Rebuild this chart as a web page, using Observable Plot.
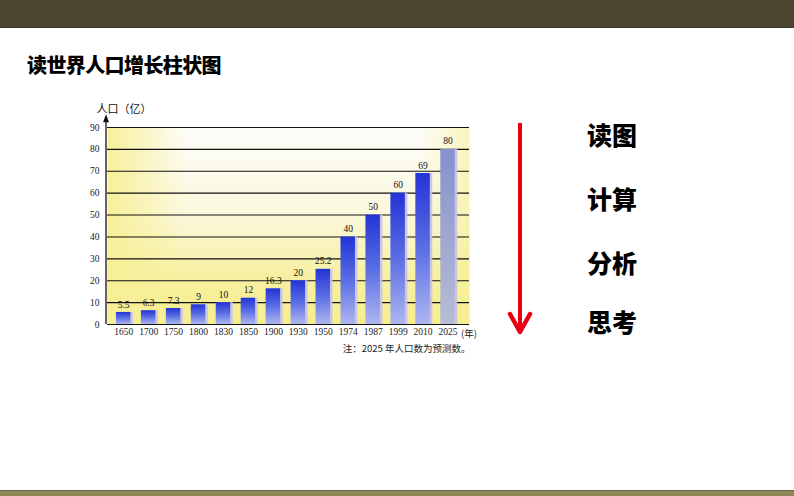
<!DOCTYPE html>
<html>
<head>
<meta charset="utf-8">
<script src="https://cdn.jsdelivr.net/npm/d3@7"></script>
<script src="https://cdn.jsdelivr.net/npm/@observablehq/plot@0.6"></script>
<style>
  html, body { margin: 0; padding: 0; background: #fff; }
  #page { position: relative; width: 794px; height: 496px; overflow: hidden; background: #fff; }
  #topband { position: absolute; left: 0; top: 0; width: 794px; height: 27px; background: #4c4631; border-bottom: 1px solid #3a3626; }
  #bottomband { position: absolute; left: 0; top: 490px; width: 794px; height: 6px; background: #8d8753; border-top: 1px solid #66634c; }
  #title { position: absolute; left: 27px; top: 55px; font: 900 20px/20px "Noto Sans CJK SC", sans-serif; color: #000; letter-spacing: -0.6px; }
  .step { position: absolute; left: 587px; font: 900 25px/26px "Noto Sans CJK SC", sans-serif; color: #000; }
  #chart { position: absolute; left: 55px; top: 90px; }
  #arrow { position: absolute; left: 498px; top: 110px; }
</style>
</head>
<body>
<div id="page">
  <div id="topband"></div>
  <div id="title">读世界人口增长柱状图</div>
  <div id="chart"></div>
  <svg id="arrow" width="44" height="240">
    <line x1="22" y1="13" x2="22" y2="221" stroke="#e60012" stroke-width="4"/>
    <polyline points="12,204 22,222 32,204" fill="none" stroke="#e60012" stroke-width="4.5" stroke-linecap="round" stroke-linejoin="round"/>
  </svg>
  <div class="step" style="top:121px">读图</div>
  <div class="step" style="top:185px">计算</div>
  <div class="step" style="top:249px">分析</div>
  <div class="step" style="top:308px">思考</div>
  <div id="bottomband"></div>
</div>
<script>
const years = ["1650","1700","1750","1800","1830","1850","1900","1930","1950","1974","1987","1999","2010","2025"];
const population = [5.5, 6.3, 7.3, 9, 10, 12, 16.3, 20, 25.2, 40, 50, 60, 69, 80];
const valueLabels = ["5.5","6.3","7.3","9","10","12","16.3","20","25.2","40","50","60","69","80"];
const yTicks = [0, 10, 20, 30, 40, 50, 60, 70, 80, 90];
const forecastYear = "2025";
const yLabel = "人口（亿）";
const yearUnit = "(年)";
const note = "注：2025 年人口数为预测数。";

const data = years.map((y, i) => ({year: y, pop: population[i], label: valueLabels[i], forecast: y === forecastYear}));

const serif = "'Liberation Serif', 'DejaVu Serif', serif";
const cjk = "'Noto Sans CJK SC', sans-serif";

const W = 440, H = 280, ML = 52, MR = 26, MT = 37, MB = 46;

const chart = Plot.plot({
  width: W,
  height: H,
  marginLeft: ML,
  marginRight: MR,
  marginTop: MT,
  marginBottom: MB,
  style: {background: "transparent", overflow: "visible"},
  x: {type: "band", domain: years, range: [55.7, 405], paddingInner: 0.42, paddingOuter: 0.21, round: false},
  y: {domain: [0, 90]},
  marks: [
    Plot.frame({fill: "url(#bgV)", stroke: null}),
    Plot.frame({fill: "url(#bgH)", stroke: null}),
    Plot.ruleY(yTicks, {stroke: "#111", strokeWidth: 1.1}),
    Plot.barY(data, {x: "year", y: "pop", dx: 2.5, fill: "#c6c0ec", fillOpacity: 0.9}),
    Plot.barY(data, {x: "year", y: "pop", fill: d => d.forecast ? "url(#barF)" : "url(#barB)"}),
    Plot.text(data, {x: "year", y: "pop", text: "label", dy: -8, fontSize: 9.5, fontFamily: serif, fill: "#111"}),
    Plot.axisY({ticks: yTicks, tickSize: 0, tickPadding: 8, label: null, fontSize: 9.5, fontFamily: serif, fill: "#222"}),
    Plot.axisX({tickSize: 0, tickPadding: 4, label: null, fontSize: 9.5, fontFamily: serif, fill: "#222"}),
    Plot.text([yearUnit], {x: () => forecastYear, frameAnchor: "bottom", dy: 12, dx: 13, textAnchor: "start", fontSize: 9.5, fontFamily: cjk, fill: "#222"}),
    Plot.text([yLabel], {frameAnchor: "top-left", dx: -11, dy: -22, textAnchor: "start", fontSize: 11, fontFamily: cjk, fill: "#111"}),
    Plot.text([note], {frameAnchor: "bottom-right", dx: 1, dy: 27, textAnchor: "end", fontSize: 9.5, fontFamily: cjk, fill: "#222"})
  ]
});

const svg = d3.select(chart.tagName.toLowerCase() === "svg" ? chart : chart.querySelector("svg"));
const defs = svg.insert("defs", ":first-child");
const gV = defs.append("linearGradient").attr("id", "bgV").attr("x1", 0).attr("y1", 1).attr("x2", 0).attr("y2", 0);
gV.append("stop").attr("offset", "0%").attr("stop-color", "#f6ee8c");
gV.append("stop").attr("offset", "25%").attr("stop-color", "#f7f0a2");
gV.append("stop").attr("offset", "55%").attr("stop-color", "#fbf8dc");
gV.append("stop").attr("offset", "100%").attr("stop-color", "#fdfdfa");
const gH = defs.append("linearGradient").attr("id", "bgH").attr("x1", 0).attr("y1", 0).attr("x2", 1).attr("y2", 0);
gH.append("stop").attr("offset", "0%").attr("stop-color", "#f7ef96").attr("stop-opacity", 0.95);
gH.append("stop").attr("offset", "8%").attr("stop-color", "#f7ef96").attr("stop-opacity", 0.6);
gH.append("stop").attr("offset", "22%").attr("stop-color", "#f7ef96").attr("stop-opacity", 0.0);
gH.append("stop").attr("offset", "86%").attr("stop-color", "#f7ef96").attr("stop-opacity", 0.0);
gH.append("stop").attr("offset", "100%").attr("stop-color", "#f7ef96").attr("stop-opacity", 0.6);
const gB = defs.append("linearGradient").attr("id", "barB").attr("x1", 0).attr("y1", 0).attr("x2", 0).attr("y2", 1);
gB.append("stop").attr("offset", "0%").attr("stop-color", "#2334d4");
gB.append("stop").attr("offset", "50%").attr("stop-color", "#5a6ee4");
gB.append("stop").attr("offset", "100%").attr("stop-color", "#aeb6f0");
const gF = defs.append("linearGradient").attr("id", "barF").attr("x1", 0).attr("y1", 0).attr("x2", 0).attr("y2", 1);
gF.append("stop").attr("offset", "0%").attr("stop-color", "#8690cd");
gF.append("stop").attr("offset", "100%").attr("stop-color", "#b7bdd4");

// y axis line with arrow, positioned via the plot's own scales
const ys = chart.scale("y");
const y0 = ys.apply(0), yTop = ys.apply(94.5);
svg.append("line").attr("x1", ML - 1).attr("x2", ML - 1).attr("y1", y0).attr("y2", yTop + 2)
  .attr("stroke", "#111").attr("stroke-width", 1.3);
svg.append("path").attr("d", `M${ML - 1},${yTop - 3} L${ML - 4},${yTop + 5} L${ML + 2},${yTop + 5} Z`).attr("fill", "#111");

document.getElementById("chart").appendChild(chart);
</script>
</body>
</html>
